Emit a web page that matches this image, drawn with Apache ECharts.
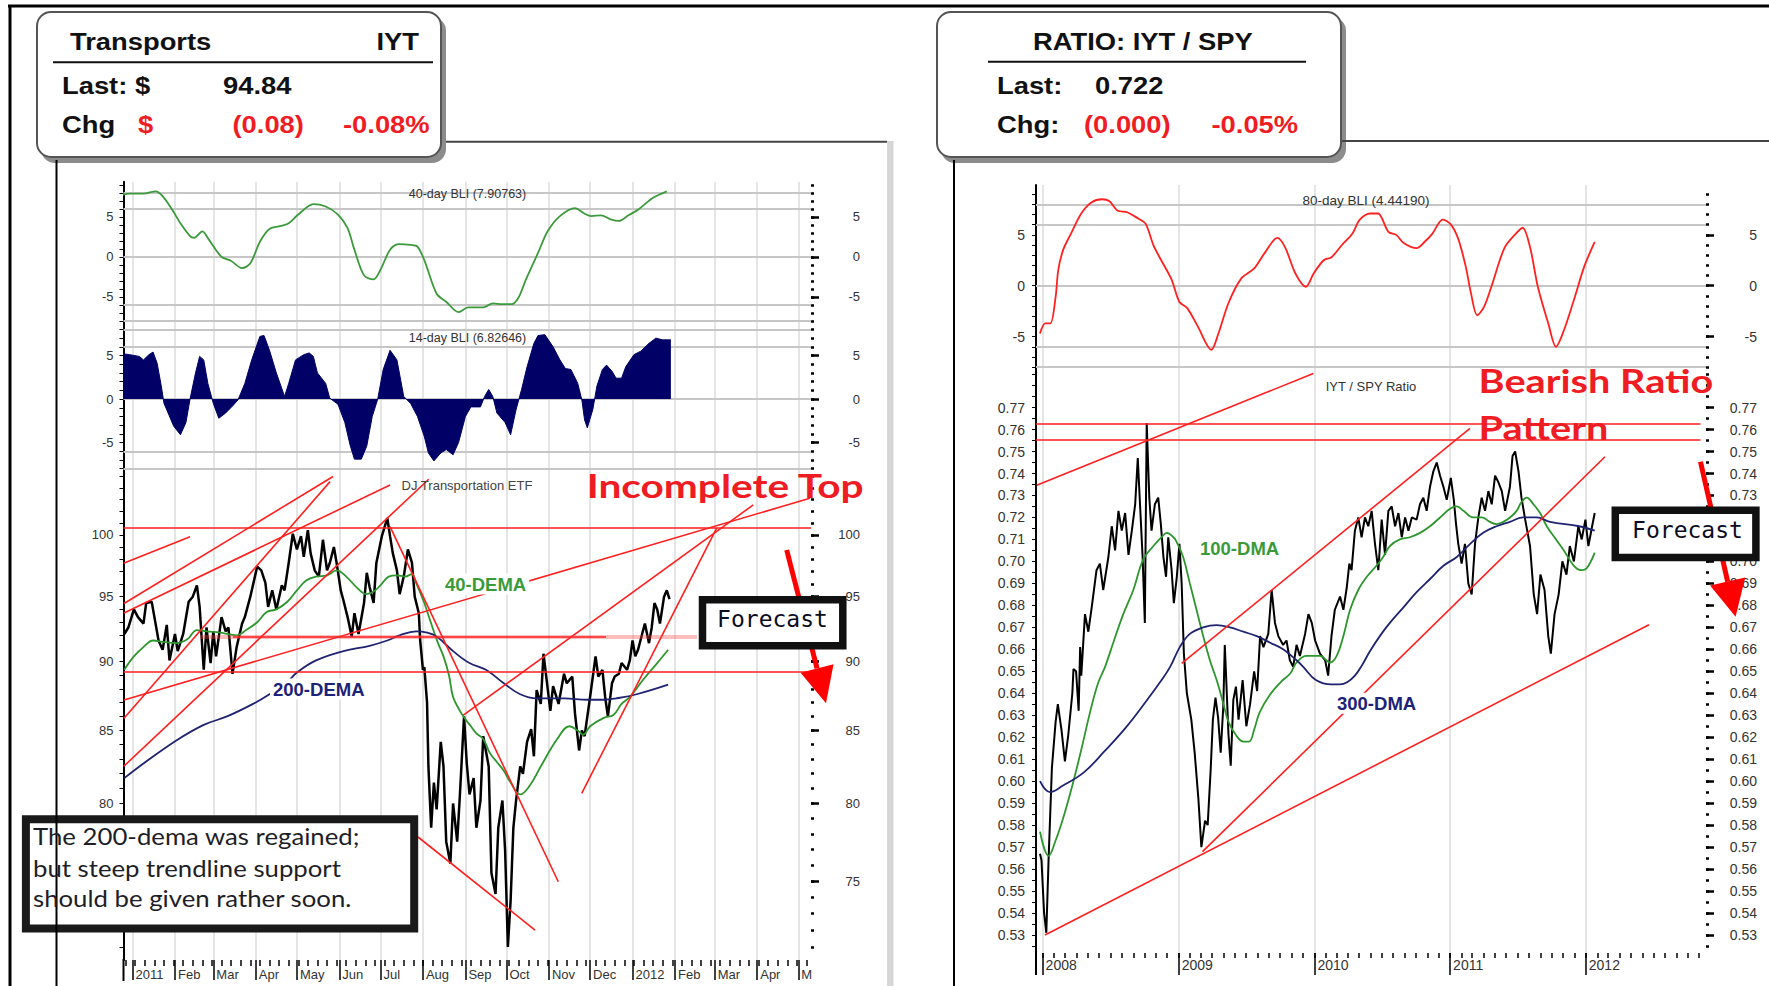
<!DOCTYPE html>
<html>
<head>
<meta charset="utf-8">
<title>Transports IYT and IYT / SPY ratio</title>
<script src="https://cdn.jsdelivr.net/npm/echarts@6/dist/echarts.min.js"></script>
<style>
  html, body { margin: 0; padding: 0; background: #fff; }
  #chart { width: 1769px; height: 986px; }
</style>
</head>
<body>
<div id="chart"></div>
<script>
// ---------- left chart: IYT, x = days from 1 Jan 2011 ----------
const bli40 = [[-7, 7.8], [-2, 7.9], [8, 7.9], [17, 8.2], [22, 7.6], [29, 5.9], [35, 4.2], [42, 2.6], [45, 2.4], [51, 3.2],
  [56, 2.1], [65, 0], [72, -0.5], [80, -1.4], [86, -0.8], [93, 1.9], [100, 3.5], [109, 3.9], [114, 4.2], [121, 5.3],
  [132, 6.6], [141, 6.3], [150, 5.3], [157, 3.6], [162, 0.9], [169, -2.3], [176, -2.8], [181, -1.6], [188, 0.9], [194, 1.6],
  [203, 1.5], [208, 1.3], [213, -0.4], [222, -4.6], [229, -5.6], [238, -6.9], [245, -6.3], [256, -6.3], [263, -5.8], [270, -5.9],
  [277, -5.9], [282, -5.0], [287, -2.9], [296, 0.5], [303, 3.2], [312, 5.1], [323, 6.1], [330, 5.4], [335, 5.1], [342, 5.2],
  [349, 4.7], [355, 4.5], [362, 5.2], [369, 5.9], [380, 7.4], [390, 8.2]];

const bli14 = [[-7, 5.2], [-2, 5.1], [5, 4.9], [8, 4.5], [12, 5.1], [15, 5.4], [18, 4.1], [21, 1.5], [23, -0.5], [26, -1.6],
  [30, -3.1], [35, -4.1], [39, -2.7], [42, 0], [46, 3.0], [49, 4.9], [52, 4.5], [55, 1.8], [59, -0.5], [63, -2.2],
  [68, -1.6], [73, -0.8], [77, -0.1], [82, 1.8], [87, 4.5], [93, 7.2], [96, 7.3], [100, 5.6], [105, 3.0], [111, 0.3],
  [114, 1.8], [119, 4.5], [125, 5.1], [129, 5.3], [132, 4.9], [135, 3.0], [141, 1.8], [144, 0.1], [150, -0.6], [155, -2.7],
  [159, -5.4], [162, -6.9], [167, -6.9], [171, -5.4], [175, -2.0], [179, 0], [183, 3.4], [188, 5.6], [193, 4.5], [198, 0.3],
  [203, -0.5], [208, -2.0], [213, -4.3], [216, -6.2], [220, -7.1], [225, -6.2], [229, -5.8], [234, -6.4], [238, -5.0], [243, -2.0],
  [247, -0.9], [254, -0.9], [257, 0.3], [260, 1.1], [263, 0.3], [266, -1.6], [272, -2.7], [276, -4.1], [280, -1.2], [284, 1.1],
  [288, 3.7], [293, 6.4], [296, 7.3], [301, 7.4], [307, 6.0], [312, 4.5], [316, 3.5], [320, 3.4], [325, 1.8], [328, -0.1],
  [330, -2.4], [332, -3.3], [336, -1.2], [339, 1.5], [343, 3.4], [346, 3.9], [350, 3.2], [353, 2.4], [357, 2.4], [360, 3.7],
  [366, 5.1], [371, 5.5], [377, 6.4], [382, 7.0], [387, 6.8], [393, 6.8]];

const iytPrice = [[-6, 92.1], [-3, 92.6], [1, 94.0], [4, 93.4], [8, 92.9], [10, 94.5], [14, 94.6], [16, 93.4], [19, 91.6], [22, 90.9],
  [25, 92.8], [27, 90.1], [31, 92.1], [33, 90.8], [37, 92.1], [41, 94.6], [44, 95.0], [47, 95.9], [49, 94.2], [52, 89.4],
  [54, 92.6], [57, 89.9], [59, 92.3], [61, 90.4], [65, 93.4], [68, 92.3], [70, 92.6], [73, 89.1], [76, 91.1], [80, 92.9],
  [82, 93.4], [86, 95.0], [91, 97.4], [94, 97.1], [97, 96.1], [99, 94.2], [102, 95.5], [105, 94.0], [109, 95.9], [111, 95.5],
  [114, 97.7], [117, 100.1], [120, 98.8], [123, 99.9], [125, 98.2], [128, 100.4], [130, 98.5], [133, 97.1], [136, 96.6], [139, 99.6],
  [142, 97.1], [144, 97.7], [147, 99.0], [149, 97.7], [152, 95.5], [154, 94.7], [157, 93.4], [160, 91.9], [162, 93.7], [165, 92.1],
  [169, 94.5], [171, 96.9], [173, 95.8], [176, 94.5], [178, 97.7], [182, 99.9], [186, 101.4], [188, 99.9], [190, 98.5], [193, 97.1],
  [195, 95.2], [198, 96.6], [201, 98.8], [204, 97.7], [206, 95.0], [209, 93.7], [210, 91.6], [212, 89.4], [213, 89.6], [215, 87.0],
  [216, 82.5], [218, 78.4], [220, 81.4], [222, 79.6], [225, 84.2], [227, 82.5], [229, 77.5], [232, 76.1], [234, 80.0], [237, 77.5],
  [239, 80.6], [242, 86.0], [244, 82.7], [246, 80.6], [249, 81.7], [251, 78.4], [254, 80.2], [256, 84.6], [260, 82.5], [262, 75.5],
  [265, 74.2], [267, 78.4], [270, 80.2], [272, 76.9], [274, 71.0], [276, 73.8], [278, 78.4], [280, 80.2], [283, 82.5], [285, 82.0],
  [288, 84.2], [291, 85.1], [293, 83.2], [295, 87.9], [298, 86.9], [300, 90.6], [302, 88.9], [305, 86.4], [307, 88.2], [311, 86.9],
  [315, 89.1], [317, 88.4], [321, 88.9], [323, 86.2], [326, 83.6], [328, 85.0], [330, 84.6], [334, 87.4], [338, 90.4], [340, 88.9],
  [343, 89.4], [345, 87.4], [347, 86.0], [350, 88.4], [352, 88.9], [355, 89.1], [357, 89.9], [361, 89.4], [363, 90.1], [365, 91.6],
  [367, 90.4], [369, 90.9], [372, 92.1], [374, 92.9], [377, 91.4], [379, 92.6], [381, 94.5], [383, 94.0], [385, 92.9], [388, 95.0],
  [390, 95.5], [392, 94.8]];

const dema40 = [[-6, 89.4], [1, 90.4], [8, 91.1], [15, 91.6], [22, 91.5], [32, 91.4], [40, 91.7], [47, 92.4], [54, 92.3], [64, 92.2],
  [76, 92.0], [83, 92.4], [91, 93.0], [98, 93.8], [105, 94.0], [113, 94.6], [120, 95.5], [127, 96.3], [134, 96.6], [142, 96.7],
  [149, 97.1], [156, 96.6], [164, 95.7], [171, 95.2], [176, 95.4], [181, 95.9], [187, 96.6], [193, 96.7], [199, 96.6], [204, 96.8],
  [207, 96.1], [213, 94.5], [218, 92.9], [223, 91.4], [227, 90.4], [231, 89.0], [234, 87.4], [239, 86.4], [243, 85.8], [247, 85.3],
  [251, 84.8], [256, 84.4], [261, 83.4], [266, 82.8], [271, 82.2], [276, 81.4], [283, 80.6], [290, 81.2], [298, 82.5], [310, 84.4],
  [319, 85.3], [325, 85.0], [329, 84.7], [334, 85.3], [344, 85.9], [351, 86.1], [357, 86.9], [363, 87.4], [373, 88.7], [383, 89.9],
  [391, 90.9]];

const dema200 = [[-6, 81.7], [8, 82.7], [32, 84.3], [52, 85.4], [69, 86.0], [88, 86.9], [100, 87.6], [113, 88.5], [120, 89.2], [134, 90.1],
  [154, 90.8], [173, 91.2], [186, 91.6], [195, 92.0], [207, 92.3], [215, 92.2], [222, 91.9], [234, 90.8], [246, 89.9], [258, 89.4],
  [271, 88.4], [283, 87.6], [295, 87.3], [315, 87.3], [332, 87.2], [344, 87.2], [353, 87.3], [368, 87.6], [391, 88.3]];

// red trend lines on the price panel: [dayA, priceA, dayB, priceB]
const iytTrendlines = [[-6.5, 97.67, 42, 99.86], [-6.2, 94.46, 146.4, 104.98], [-6.2, 93.72, 188, 104.24],
  [-6.2, 85.87, 144.2, 104.53], [-6.5, 82.5, 216.2, 104.74], [-6.2, 87.18, 494.5, 103.10],
  [188, 100.69, 310.8, 74.96], [241.5, 86.10, 453.1, 102.53], [327.9, 80.68, 426.4, 100.56], [208.4, 77.80, 293.8, 72.01]];
const iytLevels = [100.58, 89.26];
const iytSupport = [91.91, 49.3, 412, 73.4, 345.6]; // price, faint span, solid span

// ---------- right chart: IYT / SPY, x = days from 1 Jan 2008 ----------
const bli80 = [[-7, -4.7], [7, -3.7], [21, -3.7], [35, -1.1], [42, 1.5], [55, 3.5], [76, 5.1], [104, 7.1], [132, 8.2], [160, 8.5],
  [180, 8.3], [201, 7.4], [229, 7.2], [257, 6.6], [277, 6.1], [298, 4.0], [319, 2.5], [347, 0.6], [368, -1.6], [389, -2.2],
  [416, -3.9], [454, -6.3], [472, -4.8], [500, -1.7], [534, 0.7], [569, 1.7], [597, 3.2], [631, 4.7], [652, 3.8], [680, 1.2],
  [708, -0.1], [729, 1.2], [756, 2.5], [777, 2.8], [805, 4.0], [833, 5.1], [853, 6.5], [881, 7.1], [902, 7.1], [930, 5.3],
  [951, 5.0], [971, 4.2], [1006, 3.7], [1027, 4.3], [1048, 5.1], [1076, 6.5], [1096, 6.1], [1117, 4.7], [1138, 1.9], [1152, -0.7],
  [1169, -2.9], [1187, -2.1], [1207, -0.1], [1242, 3.7], [1270, 5.0], [1291, 5.7], [1311, 3.8], [1332, -0.1], [1360, -3.7], [1381, -6.0],
  [1402, -4.4], [1429, -1.4], [1457, 1.9], [1485, 4.3]];

const ratio = [[-7, 0.567], [-3, 0.564], [4, 0.540], [10, 0.531], [16, 0.564], [25, 0.606], [35, 0.627], [41, 0.635], [51, 0.623], [60, 0.609],
  [69, 0.621], [80, 0.640], [83, 0.651], [90, 0.650], [97, 0.632], [101, 0.661], [104, 0.648], [114, 0.676], [123, 0.668], [132, 0.679],
  [145, 0.696], [154, 0.699], [163, 0.687], [177, 0.702], [186, 0.716], [195, 0.705], [204, 0.723], [213, 0.714], [222, 0.722], [231, 0.703],
  [240, 0.714], [249, 0.726], [256, 0.747], [262, 0.726], [269, 0.702], [275, 0.672], [280, 0.763], [287, 0.729], [293, 0.714], [302, 0.726],
  [311, 0.729], [318, 0.717], [325, 0.702], [332, 0.693], [338, 0.711], [347, 0.696], [353, 0.681], [361, 0.693], [368, 0.708], [374, 0.690],
  [380, 0.658], [388, 0.640], [400, 0.628], [409, 0.613], [419, 0.592], [427, 0.570], [437, 0.582], [444, 0.580], [452, 0.605], [458, 0.628],
  [465, 0.638], [472, 0.629], [479, 0.613], [486, 0.634], [490, 0.662], [493, 0.650], [500, 0.621], [506, 0.607], [513, 0.637], [520, 0.643],
  [527, 0.628], [538, 0.646], [548, 0.625], [558, 0.635], [569, 0.650], [577, 0.641], [585, 0.666], [594, 0.661], [607, 0.667], [616, 0.687],
  [625, 0.672], [634, 0.666], [647, 0.662], [656, 0.664], [665, 0.655], [674, 0.652], [683, 0.662], [692, 0.657], [706, 0.667], [715, 0.676],
  [724, 0.672], [733, 0.664], [746, 0.658], [760, 0.655], [768, 0.648], [777, 0.666], [786, 0.678], [800, 0.684], [809, 0.678], [818, 0.688],
  [825, 0.699], [831, 0.696], [840, 0.714], [849, 0.720], [858, 0.711], [867, 0.720], [876, 0.716], [885, 0.723], [894, 0.708], [903, 0.696],
  [912, 0.719], [921, 0.703], [930, 0.723], [939, 0.725], [948, 0.716], [957, 0.722], [966, 0.711], [975, 0.720], [984, 0.714], [993, 0.720],
  [1006, 0.719], [1015, 0.726], [1024, 0.729], [1033, 0.723], [1042, 0.734], [1051, 0.741], [1060, 0.745], [1069, 0.739], [1078, 0.734], [1087, 0.728],
  [1098, 0.738], [1106, 0.728], [1112, 0.717], [1118, 0.708], [1127, 0.699], [1136, 0.708], [1145, 0.690], [1154, 0.685], [1163, 0.708], [1172, 0.720],
  [1181, 0.729], [1190, 0.723], [1199, 0.732], [1208, 0.726], [1217, 0.739], [1226, 0.736], [1235, 0.732], [1244, 0.723], [1257, 0.734], [1264, 0.748],
  [1271, 0.750], [1280, 0.741], [1288, 0.729], [1298, 0.719], [1311, 0.707], [1321, 0.685], [1330, 0.676], [1339, 0.694], [1350, 0.687], [1360, 0.666],
  [1367, 0.658], [1377, 0.676], [1388, 0.685], [1398, 0.700], [1409, 0.694], [1418, 0.707], [1429, 0.700], [1441, 0.716], [1450, 0.710], [1460, 0.719],
  [1468, 0.707], [1478, 0.716], [1485, 0.722]];

const dma100 = [[-7, 0.577], [16, 0.566], [35, 0.573], [55, 0.583], [80, 0.598], [105, 0.615], [130, 0.633], [150, 0.645], [168, 0.652], [190, 0.663],
  [217, 0.676], [244, 0.687], [271, 0.701], [298, 0.707], [320, 0.711], [334, 0.713], [352, 0.711], [360, 0.709], [378, 0.702], [396, 0.690],
  [414, 0.678], [432, 0.666], [450, 0.655], [470, 0.645], [485, 0.636], [500, 0.627], [520, 0.621], [540, 0.618], [555, 0.618], [570, 0.624],
  [583, 0.631], [610, 0.639], [640, 0.645], [666, 0.649], [683, 0.654], [710, 0.657], [746, 0.657], [773, 0.654], [791, 0.657], [809, 0.666],
  [827, 0.678], [849, 0.687], [872, 0.693], [898, 0.698], [916, 0.702], [934, 0.707], [961, 0.710], [988, 0.711], [1015, 0.713], [1042, 0.716],
  [1069, 0.720], [1096, 0.724], [1114, 0.725], [1132, 0.723], [1158, 0.720], [1181, 0.720], [1203, 0.718], [1221, 0.717], [1239, 0.718], [1257, 0.720],
  [1275, 0.723], [1288, 0.727], [1302, 0.729], [1320, 0.726], [1338, 0.722], [1356, 0.716], [1381, 0.710], [1402, 0.705], [1429, 0.698], [1450, 0.696],
  [1464, 0.697], [1485, 0.704]];

const dma300 = [[-7, 0.600], [20, 0.595], [55, 0.598], [111, 0.604], [166, 0.6135], [222, 0.624], [277, 0.636], [320, 0.646], [343, 0.652], [369, 0.661],
  [396, 0.667], [432, 0.670], [468, 0.671], [504, 0.670], [540, 0.668], [576, 0.666], [612, 0.663], [647, 0.660], [683, 0.655], [701, 0.652],
  [735, 0.646], [777, 0.644], [800, 0.644], [819, 0.645], [840, 0.648], [860, 0.653], [880, 0.659], [907, 0.666], [934, 0.672], [970, 0.679],
  [1006, 0.686], [1042, 0.692], [1078, 0.698], [1114, 0.702], [1150, 0.708], [1185, 0.713], [1221, 0.716], [1257, 0.718], [1293, 0.720], [1329, 0.720],
  [1365, 0.718], [1443, 0.716], [1485, 0.714]];

const ratioTrendlines = [[-15.9, 0.7347, 728.1, 0.7855], [374.1, 0.6536, 1149.5, 0.7605],
  [430.1, 0.5679, 1512.6, 0.7476], [6.5, 0.530, 1631, 0.6712]];
const ratioLevels = [0.7625, 0.7555];

// ---------- tick labels ----------
const monthLabels = ['2011', 'Feb', 'Mar', 'Apr', 'May', 'Jun', 'Jul', 'Aug', 'Sep', 'Oct', 'Nov', 'Dec',
  '2012', 'Feb', 'Mar', 'Apr', 'M'];
const yearLabels = ['2008', '2009', '2010', '2011', '2012'];
const bliLabels = [-5, 0, 5];
const bliBands = [8, 6, 0, -6, -8];
const priceLabels = [75, 80, 85, 90, 95, 100];
const ratioLabels = [0.53, 0.54, 0.55, 0.56, 0.57, 0.58, 0.59, 0.60, 0.61, 0.62, 0.63, 0.64, 0.65,
  0.66, 0.67, 0.68, 0.69, 0.70, 0.71, 0.72, 0.73, 0.74, 0.75, 0.76, 0.77];
// the right-hand 0.71 / 0.72 labels sit under the Forecast box
const ratioRightLabels = ratioLabels.filter(v => v !== 0.71 && v !== 0.72);

// ---------- axis helpers ----------
const DAY = 864e5;
const L0 = Date.UTC(2011, 0, 1), R0 = Date.UTC(2008, 0, 1);
const dayOf = (base, y, m) => Math.round((Date.UTC(y, m, 1) - base) / DAY);

const monthTicksL = monthLabels.map((s, i) => dayOf(L0, 2011, i));
const weekTicksL = [];
for (let d = -5; d < 496; d += 7) weekTicksL.push(d);
const yearTicksR = yearLabels.map((s, i) => dayOf(R0, 2008 + i, 0));
const monthTicksR = [];
for (let m = 0; m < 59; m++) monthTicksR.push(dayOf(R0, 2008, m));

const intRange = (a, b) => { const r = []; for (let i = a; i <= b; i++) r.push(i); return r; };
const bliMinor = intRange(-8, 9);
const priceMinor = intRange(71, 105);
const ratioMinor = intRange(105, 157).map(i => +(i * 0.005).toFixed(3));

const LX = [-6.57, 495.26], RX = [-17.75, 1784.3];
const AX_FONT = '"Liberation Sans", Arial, sans-serif';

function xAxis(grid, ext, o) {
  const lbl = {};
  if (o.labels) o.ticks.forEach((d, i) => { lbl[d] = o.labels[i]; });
  return {
    type: 'value', gridIndex: grid, position: 'bottom', min: ext[0], max: ext[1],
    axisLine: { show: false, onZero: false },
    axisTick: { show: !!o.len, customValues: o.ticks, length: o.len || 0, lineStyle: { color: '#000', width: 1.5 } },
    axisLabel: o.labels ? {
      show: true, customValues: o.ticks, formatter: v => lbl[Math.round(v)] || '',
      align: 'left', verticalAlign: 'top', margin: o.margin, padding: [0, 0, 0, 3],
      fontSize: o.fs, color: '#333', fontFamily: AX_FONT, hideOverlap: false
    } : { show: false },
    splitLine: { show: !!o.split, lineStyle: { color: '#dcdcdc', width: 1.5 } }
  };
}

function yAxes(grid, o) {
  const base = { gridIndex: grid, type: o.type || 'value', min: o.min, max: o.max, splitLine: { show: false } };
  const lbl = { formatter: o.fmt, fontSize: o.fs, color: '#333', fontFamily: AX_FONT, hideOverlap: false };
  return [
    Object.assign({}, base, {
      position: 'left',
      axisLine: { show: true, onZero: false, lineStyle: { color: '#000', width: 2 } },
      axisTick: { show: true, customValues: o.minor, length: 4, lineStyle: { color: '#000', width: 1 } },
      axisLabel: Object.assign({ margin: o.lm, customValues: o.major }, lbl)
    }),
    Object.assign({}, base, {
      position: 'right',
      axisLine: { show: false, onZero: false },
      axisTick: { show: true, customValues: o.major, length: 8, lineStyle: { color: '#000', width: 2.5 } },
      axisLabel: Object.assign({ margin: o.rm, align: 'right', customValues: o.rmajor || o.major }, lbl)
    }),
    Object.assign({}, base, {
      position: 'right',
      axisLine: { show: false, onZero: false },
      axisTick: { show: true, customValues: o.minor, length: 3, lineStyle: { color: '#000', width: 2.5 } },
      axisLabel: { show: false }
    })
  ];
}

function line(name, data, xi, yi, color, width, extra) {
  return Object.assign({
    name, type: 'line', xAxisIndex: xi, yAxisIndex: yi, data,
    symbol: 'none', showSymbol: false, silent: true, animation: false,
    lineStyle: { color, width }
  }, extra || {});
}

function bands() {
  return {
    silent: true, z: 1, symbol: ['none', 'none'], label: { show: false }, animation: false,
    lineStyle: { color: '#c6c6c6', width: 2, type: 'solid' },
    data: bliBands.map(v => ({ yAxis: v }))
  };
}

function redLines(pairs) {
  return {
    silent: true, symbol: ['none', 'none'], label: { show: false }, animation: false,
    emphasis: { disabled: true },
    lineStyle: { color: '#ff1f1f', width: 1.6, type: 'solid' },
    data: pairs
  };
}

const seg = (x1, y1, x2, y2, style) => [Object.assign({ coord: [x1, y1] }, style ? { lineStyle: style } : {}), { coord: [x2, y2] }];

const iytMarks = iytTrendlines.map(t => seg(t[0], t[1], t[2], t[3]))
  .concat(iytLevels.map(p => seg(LX[0], p, LX[1], p)))
  .concat([
    seg(iytSupport[1], iytSupport[0], iytSupport[2], iytSupport[0], { color: 'rgba(255,70,70,0.35)', width: 4 }),
    seg(iytSupport[3], iytSupport[0], iytSupport[4], iytSupport[0])
  ]);
const ratioMarks = ratioTrendlines.map(t => seg(t[0], t[1], t[2], t[3]))
  .concat(ratioLevels.map(v => seg(RX[0], v, 1769.5, v)));

// ---------- decorations (pixel placed) ----------
const RED = '#f01c24';
const LATO = 'Lato, "Open Sans", sans-serif';
const MONO = '"DejaVu Sans Mono", monospace';

function T(x, y, text, o) {
  o = o || {};
  const st = {
    text, fill: o.color || '#111', align: o.align || 'left', verticalAlign: 'middle',
    fontFamily: o.family || AX_FONT, fontSize: o.size || 13, fontWeight: o.weight || 'normal'
  };
  if (o.bg) { st.backgroundColor = o.bg; st.padding = [1, 3]; }
  return { type: 'text', x, y, scaleX: o.sx || 1, z: o.z || 90, silent: true, style: st };
}
function Ln(x1, y1, x2, y2, color, w, z) {
  return { type: 'line', z: z || 85, silent: true, shape: { x1, y1, x2, y2 }, style: { stroke: color, lineWidth: w } };
}
function Rc(x, y, w, h, o) {
  return { type: 'rect', z: o.z || 80, silent: true, shape: { x, y, width: w, height: h, r: o.r || 0 },
    style: { fill: o.fill || '#fff', stroke: o.stroke || null, lineWidth: o.lw || 0 } };
}
function arrow(x1, y1, x2, y2, head, half, w) {
  const len = Math.hypot(x2 - x1, y2 - y1), ux = (x2 - x1) / len, uy = (y2 - y1) / len;
  const bx = x2 - ux * head, by = y2 - uy * head;
  return [
    Ln(x1, y1, bx, by, '#ff0000', w, 75),
    { type: 'polygon', z: 75, silent: true,
      shape: { points: [[bx - uy * half, by + ux * half], [bx + uy * half, by - ux * half], [x2, y2]] },
      style: { fill: '#ff0000' } }
  ];
}

const H = { size: 24, sx: 1.14, weight: 'bold', family: AX_FONT };
const HR = Object.assign({}, H, { color: RED });
const BIG = { family: LATO, size: 32.5, weight: 'bold', color: RED, sx: 1.22 };
const NOTE = { family: LATO, size: 23, color: '#1e1e28', sx: 1.12 };

const elements = [
  // frames
  Ln(8, 6, 1769, 6, '#000', 3), Ln(10, 6, 10, 986, '#000', 3),
  Ln(446, 141.7, 887, 141.7, '#444', 2), Rc(887, 141, 6.5, 845, { fill: '#d6d6d6' }),
  Ln(56.5, 160, 56.5, 986, '#000', 2),
  Ln(1342, 141, 1769, 141, '#444', 2), Ln(954, 160, 954, 986, '#000', 2),
  Ln(123.5, 959, 123.5, 981, '#000', 2), Ln(1036, 952, 1036, 975, '#000', 2),
  // left header
  Rc(41, 17, 405, 146, { r: 14, fill: '#8c8c8c', z: 81 }),
  Rc(37, 12, 404, 145, { r: 14, fill: '#fff', stroke: '#555', lw: 2, z: 82 }),
  Ln(53, 62.3, 433, 62.3, '#111', 2, 83),
  T(70, 42, 'Transports', H), T(419, 42, 'IYT', Object.assign({ align: 'right' }, H)),
  T(62, 86, 'Last: $', H), T(223, 86, '94.84', H),
  T(62, 125, 'Chg', H), T(138, 125, '$', HR), T(232.5, 125, '(0.08)', HR), T(343, 125, '-0.08%', HR),
  // right header
  Rc(941, 17, 405, 146, { r: 14, fill: '#8c8c8c', z: 81 }),
  Rc(937, 12, 404, 145, { r: 14, fill: '#fff', stroke: '#555', lw: 2, z: 82 }),
  Ln(988, 61.7, 1306, 61.7, '#111', 2, 83),
  T(1033, 42, 'RATIO: IYT / SPY', H),
  T(997, 86, 'Last:', H), T(1095, 86, '0.722', H),
  T(997, 125, 'Chg:', H), T(1084, 125, '(0.000)', HR), T(1211.5, 125, '-0.05%', HR),
  // panel titles
  T(467.5, 193.8, '40-day BLI (7.90763)', { size: 12.5, align: 'center', color: '#333' }),
  T(467.5, 337.8, '14-day BLI (6.82646)', { size: 12.5, align: 'center', color: '#333' }),
  T(467, 485.8, 'DJ Transportation ETF', { size: 13, align: 'center', color: '#444' }),
  T(1366, 200.8, '80-day BLI (4.44190)', { size: 13.5, align: 'center', color: '#333' }),
  T(1371, 386.7, 'IYT / SPY Ratio', { size: 13, align: 'center', color: '#333' }),
  // series labels
  T(442, 584, '40-DEMA', { size: 18.5, weight: 'bold', color: '#3a9a3a', bg: '#fff' }),
  T(270, 689, '200-DEMA', { size: 18.5, weight: 'bold', color: '#1c2279', bg: '#fff' }),
  T(1197, 548.3, '100-DMA', { size: 18.5, weight: 'bold', color: '#3a9a3a', bg: '#fff' }),
  T(1334, 703.3, '300-DMA', { size: 18.5, weight: 'bold', color: '#1c2279', bg: '#fff' }),
  // annotations
  T(586.7, 485.7, 'Incomplete Top', Object.assign({}, BIG, { sx: 1.25 })),
  T(1478.6, 380.7, 'Bearish Ratio', BIG),
  T(1478.6, 427.4, 'Pattern', BIG)
].concat(
  arrow(786.7, 550, 826, 703.3, 36, 17, 5),
  arrow(1700.5, 461.7, 1735.6, 616.7, 36, 18, 5),
  [
    Rc(702.5, 599.7, 140.3, 46, { fill: '#fff', stroke: '#111', lw: 7.5, z: 82 }),
    T(772.5, 619, 'Forecast', { family: MONO, size: 23, align: 'center', color: '#0b0b22' }),
    Rc(1615.3, 510.3, 140.6, 47.3, { fill: '#fff', stroke: '#111', lw: 7.5, z: 82 }),
    T(1687.5, 530, 'Forecast', { family: MONO, size: 23, align: 'center', color: '#0b0b22' }),
    Rc(25.9, 819.2, 388.3, 109.4, { fill: '#fff', stroke: '#1a1a1a', lw: 8, z: 82 }),
    T(33, 836.1, 'The 200-dema was regained;', NOTE),
    T(33, 867.8, 'but steep trendline support', NOTE),
    T(33, 897.8, 'should be given rather soon.', NOTE)
  ]
);

// ---------- chart ----------
const chart = echarts.init(document.getElementById('chart'), null, { renderer: 'svg', width: 1769, height: 986 });
const G = (left, top, width, height) => ({ left, top, width, height, containLabel: false, outerBoundsMode: 'none' });
const f2 = v => v.toFixed(2);

chart.setOption({
  backgroundColor: '#fff',
  animation: false,
  grid: [
    G(123.5, 181.7, 687.5, 142.5),
    G(123.5, 324.2, 687.5, 149.3),
    G(123.5, 473.5, 687.5, 486.5),
    G(1036, 185, 670, 187.2),
    G(1036, 372.2, 670, 580.8)
  ],
  xAxis: [
    xAxis(0, LX, { ticks: monthTicksL, split: true }),
    xAxis(1, LX, { ticks: monthTicksL, split: true }),
    xAxis(2, LX, { ticks: monthTicksL, split: true, len: 20, labels: monthLabels, margin: 8, fs: 13 }),
    xAxis(2, LX, { ticks: weekTicksL, len: 6 }),
    xAxis(3, RX, { ticks: yearTicksR, split: true }),
    xAxis(4, RX, { ticks: yearTicksR, split: true, len: 22, labels: yearLabels, margin: 5, fs: 14 }),
    xAxis(4, RX, { ticks: monthTicksR, len: 5 })
  ],
  yAxis: [].concat(
    yAxes(0, { min: -8.4, max: 9.4, major: bliLabels, minor: bliMinor, fs: 13, lm: 10, rm: 49, fmt: v => String(v) }),
    yAxes(1, { min: -8.55, max: 8.6, major: bliLabels, minor: bliMinor, fs: 13, lm: 10, rm: 49, fmt: v => String(v) }),
    yAxes(2, { type: 'log', min: 70.24, max: 105.24, major: priceLabels, minor: priceMinor, fs: 13, lm: 10, rm: 49, fmt: v => String(Math.round(v)) }),
    yAxes(3, { min: -8.5, max: 9.9, major: bliLabels, minor: bliMinor, fs: 14, lm: 11, rm: 51, fmt: v => String(v) }),
    yAxes(4, { min: 0.5218, max: 0.7861, major: ratioLabels, rmajor: ratioRightLabels, minor: ratioMinor, fs: 14, lm: 11, rm: 51, fmt: f2 })
  ),
  series: [
    line('40-day BLI', bli40, 0, 0, '#3c9a3c', 1.8, { smooth: 0.3, markLine: bands() }),
    line('14-day BLI', bli14, 1, 3, '#000066', 1, { areaStyle: { color: '#000066', opacity: 1, origin: 0 }, markLine: bands() }),
    line('IYT', iytPrice, 2, 6, '#000', 2.5, { markLine: redLines(iytMarks) }),
    line('40-DEMA', dema40, 2, 6, '#2e962e', 1.8, { smooth: 0.4 }),
    line('200-DEMA', dema200, 2, 6, '#1f2370', 1.8, { smooth: 0.4 }),
    line('80-day BLI', bli80, 4, 9, '#ff2020', 1.8, { smooth: 0.3, markLine: bands() }),
    line('IYT / SPY', ratio, 5, 12, '#000', 2, { markLine: redLines(ratioMarks) }),
    line('100-DMA', dma100, 5, 12, '#2e962e', 1.8, { smooth: 0.4 }),
    line('300-DMA', dma300, 5, 12, '#1f2370', 1.8, { smooth: 0.4 })
  ],
  graphic: { elements }
});
</script>
</body>
</html>
